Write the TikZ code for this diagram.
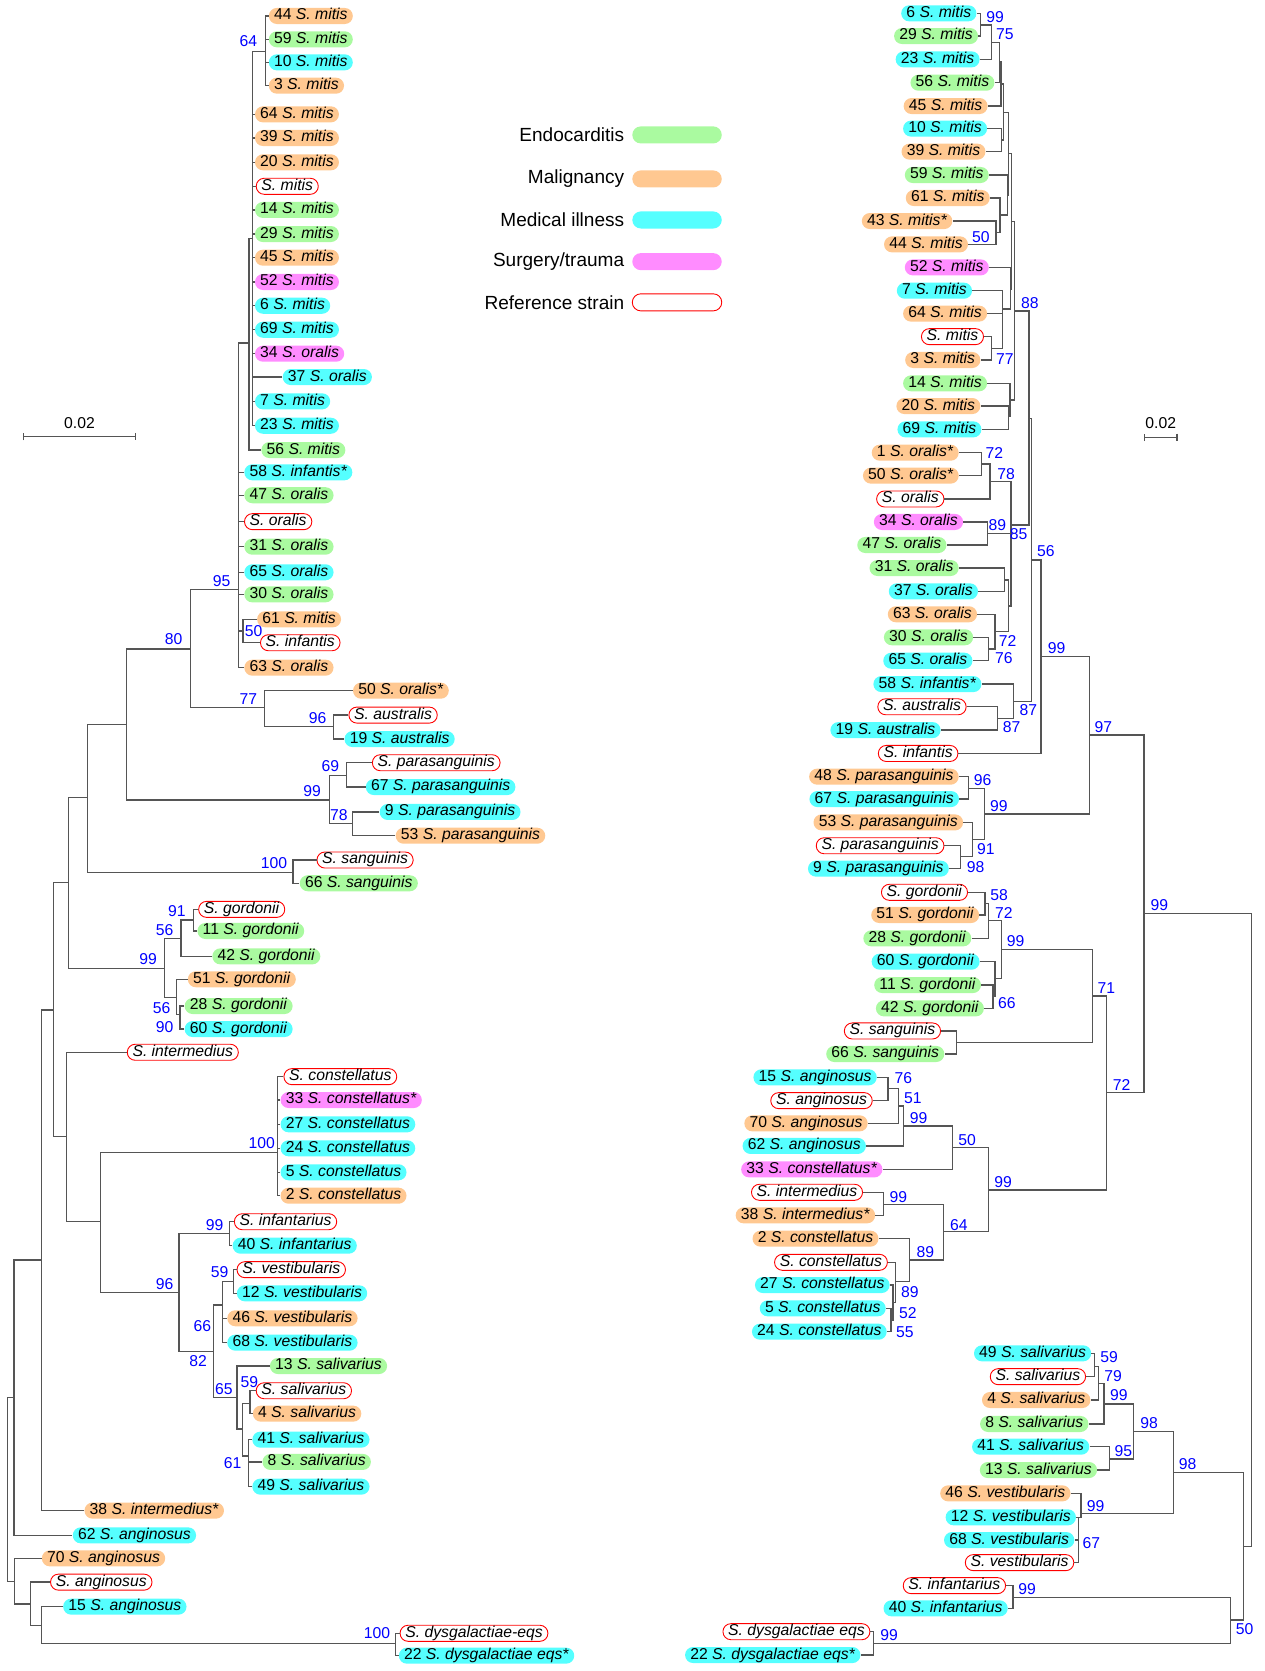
\documentclass[tikz,border=0pt]{standalone}
\usepackage{fontspec}
\setmainfont{Liberation Sans}
\usetikzlibrary{arrows.meta}

\definecolor{cEndo}{RGB}{170,250,160}
\definecolor{cMalig}{RGB}{255,200,145}
\definecolor{cMed}{RGB}{85,255,255}
\definecolor{cSurg}{RGB}{255,140,255}
\definecolor{cLine}{RGB}{85,85,85}
\definecolor{cBoot}{RGB}{0,0,255}

\tikzset{
  leaf/.style={rounded corners=5.3pt, minimum height=10.7pt, inner xsep=3.5pt, inner ysep=0.5pt,
    text height=7.5pt, text depth=2.2pt, font=\fontsize{10.5}{12}\selectfont},
  endo/.style={leaf, fill=cEndo},
  malig/.style={leaf, fill=cMalig},
  medill/.style={leaf, fill=cMed},
  surg/.style={leaf, fill=cSurg},
  refstrain/.style={leaf, draw=red, fill=white, line width=0.6pt},
  branch/.style={draw=cLine, line width=0.9pt},
  bsl/.style={text=cBoot, inner sep=0pt, font=\fontsize{10.5}{12}\selectfont},
  legtext/.style={inner sep=0pt, font=\fontsize{12.7}{15}\selectfont},
  legpill/.style={minimum width=59.7pt, minimum height=11.4pt, rounded corners=5.7pt, inner sep=0pt},
  scalebar/.style={draw=cLine, line width=0.8pt, {Bar[width=5pt]}-{Bar[width=5pt]}}
}

\begin{document}
\begin{tikzpicture}[x=0.025cm, y=-0.025cm]
\useasboundingbox (0,0) rectangle (1187,1568);

\node[legtext, anchor=east] (tEndo) at (586,126.6) {Endocarditis};
\node[legtext, anchor=east] (tMalig) at (586,167.9) {Malignancy};
\node[legtext, anchor=east] (tMed) at (586,206.4) {Medical illness};
\node[legtext, anchor=east] (tSurg) at (586,245.5) {Surgery/trauma};
\node[legtext, anchor=east] (tRef) at (586,283.7) {Reference strain};
\node[legpill, fill=cEndo] (kEndo) at (635.3,126.6) {};
\node[legpill, fill=cMalig] (kMalig) at (635.3,167.9) {};
\node[legpill, fill=cMed] (kMed) at (635.3,206.4) {};
\node[legpill, fill=cSurg] (kSurg) at (635.3,245.5) {};
\node[legpill, draw=red, fill=white, line width=0.6pt] (kRef) at (635.3,283.7) {};

\coordinate (sL1) at (21.3,409.7);
\coordinate (sL2) at (128,409.7);
\draw[scalebar] (sL1) -- (sL2);
\node[bsl, text=black] (sLt) at (74.6,397) {0.02};
\coordinate (sR1) at (1073.5,410.4);
\coordinate (sR2) at (1105,410.4);
\draw[scalebar] (sR1) -- (sR2);
\node[bsl, text=black] (sRt) at (1089.2,397) {0.02};

\begin{scope}[every node/.append style={anchor=west}]
\node[malig] (l44) at (252,15) {44 \textit{S. mitis}};
\node[endo] (l59) at (252,36.9) {59 \textit{S. mitis}};
\node[medill] (l10) at (252,58.5) {10 \textit{S. mitis}};
\node[malig] (l3) at (252,80.4) {3 \textit{S. mitis}};
\node[malig] (l64) at (239,107.3) {64 \textit{S. mitis}};
\node[malig] (l39) at (239,129.5) {39 \textit{S. mitis}};
\node[malig] (l20) at (239,152.3) {20 \textit{S. mitis}};
\node[refstrain] (lmit) at (240,174.8) {\textit{S. mitis}};
\node[endo] (l14) at (239,197) {14 \textit{S. mitis}};
\node[endo] (l29) at (239,219.6) {29 \textit{S. mitis}};
\node[malig] (l45) at (239,241.8) {45 \textit{S. mitis}};
\node[surg] (l52) at (239,264.6) {52 \textit{S. mitis}};
\node[medill] (l6) at (239,286.9) {6 \textit{S. mitis}};
\node[medill] (l69) at (239,309.4) {69 \textit{S. mitis}};
\node[surg] (l34) at (239,331.9) {34 \textit{S. oralis}};
\node[medill] (l37) at (265,353.8) {37 \textit{S. oralis}};
\node[medill] (l7) at (239,376.6) {7 \textit{S. mitis}};
\node[medill] (l23) at (239,399.5) {23 \textit{S. mitis}};
\node[endo] (l56) at (245,422.3) {56 \textit{S. mitis}};
\node[medill] (l58) at (229,443.2) {58 \textit{S. infantis*}};
\node[endo] (l47) at (229,464.7) {47 \textit{S. oralis}};
\node[refstrain] (lora) at (229,489.5) {\textit{S. oralis}};
\node[endo] (l31) at (229,513) {31 \textit{S. oralis}};
\node[medill] (l65) at (229,537) {65 \textit{S. oralis}};
\node[endo] (l30) at (229,557.7) {30 \textit{S. oralis}};
\node[malig] (l61) at (241,581.1) {61 \textit{S. mitis}};
\node[refstrain] (linf) at (244,603.1) {\textit{S. infantis}};
\node[malig] (l63) at (229,626.5) {63 \textit{S. oralis}};
\node[malig] (l50) at (331,648.1) {50 \textit{S. oralis*}};
\node[refstrain] (laus) at (327,671) {\textit{S. australis}};
\node[medill] (l19) at (323,693.5) {19 \textit{S. australis}};
\node[refstrain] (lpar) at (349,715.7) {\textit{S. parasanguinis}};
\node[medill] (l67) at (343,738.5) {67 \textit{S. parasanguinis}};
\node[medill] (l9) at (356,761.9) {9 \textit{S. parasanguinis}};
\node[malig] (l53) at (371,784.2) {53 \textit{S. parasanguinis}};
\node[refstrain] (lsan) at (297,807) {\textit{S. sanguinis}};
\node[endo] (l66) at (281,828.8) {66 \textit{S. sanguinis}};
\node[refstrain] (lgor) at (186,853.3) {\textit{S. gordonii}};
\node[endo] (l11) at (185,873.6) {11 \textit{S. gordonii}};
\node[endo] (l42) at (199,897.4) {42 \textit{S. gordonii}};
\node[malig] (l51) at (176,918.9) {51 \textit{S. gordonii}};
\node[endo] (l28) at (173,944) {28 \textit{S. gordonii}};
\node[medill] (l60) at (173,965.6) {60 \textit{S. gordonii}};
\node[refstrain] (lint) at (119,987.4) {\textit{S. intermedius}};
\node[refstrain] (lcon) at (266,1010.3) {\textit{S. constellatus}};
\node[surg] (l33) at (263,1032.2) {33 \textit{S. constellatus*}};
\node[medill] (l27) at (263,1055) {27 \textit{S. constellatus}};
\node[medill] (l24) at (263,1077.5) {24 \textit{S. constellatus}};
\node[medill] (l5) at (263,1100) {5 \textit{S. constellatus}};
\node[malig] (l2) at (263,1122) {2 \textit{S. constellatus}};
\node[refstrain] (lifa) at (219.5,1146.4) {\textit{S. infantarius}};
\node[medill] (l40) at (218,1168.9) {40 \textit{S. infantarius}};
\node[refstrain] (lves) at (222,1191.4) {\textit{S. vestibularis}};
\node[medill] (l12) at (222,1213.6) {12 \textit{S. vestibularis}};
\node[malig] (l46) at (213,1237) {46 \textit{S. vestibularis}};
\node[medill] (l68) at (213,1259.9) {68 \textit{S. vestibularis}};
\node[endo] (l13) at (253,1281.8) {13 \textit{S. salivarius}};
\node[refstrain] (lsal) at (240,1305) {\textit{S. salivarius}};
\node[malig] (l4) at (237,1326.5) {4 \textit{S. salivarius}};
\node[medill] (l41) at (236.5,1350.9) {41 \textit{S. salivarius}};
\node[endo] (l8) at (246,1371.8) {8 \textit{S. salivarius}};
\node[medill] (l49) at (236.5,1395) {49 \textit{S. salivarius}};
\node[malig] (l38) at (79,1417.5) {38 \textit{S. intermedius*}};
\node[medill] (l62) at (68,1440.7) {62 \textit{S. anginosus}};
\node[malig] (l70) at (39,1462.3) {70 \textit{S. anginosus}};
\node[refstrain] (lang) at (47,1484.6) {\textit{S. anginosus}};
\node[medill] (l15) at (59,1507.6) {15 \textit{S. anginosus}};
\node[refstrain] (ldys) at (375,1532.6) {\textit{S. dysgalactiae-eqs}};
\node[medill] (l22) at (374,1553.6) {22 \textit{S. dysgalactiae eqs*}};
\end{scope}

\coordinate (ln64) at (249,48.5);
\coordinate (lnB) at (237,224);
\coordinate (lnA) at (233.5,322);
\coordinate (ln50) at (228,592);
\coordinate (ln95) at (224,553);
\coordinate (ln96) at (313,682);
\coordinate (ln77) at (248,664);
\coordinate (ln80) at (179,609);
\coordinate (ln69) at (325,727.8);
\coordinate (ln78) at (331,772.5);
\coordinate (ln99p) at (309,750.7);
\coordinate (lnP1) at (119,680);
\coordinate (ln100s) at (275,819);
\coordinate (lnP2) at (82,748.5);
\coordinate (ln91) at (181.6,863.3);
\coordinate (ln56a) at (170,880.5);
\coordinate (ln90) at (169,952);
\coordinate (ln56b) at (165.4,936);
\coordinate (ln99g) at (154.5,908.6);
\coordinate (lnP3) at (64,828);
\coordinate (ln100c) at (260.5,1081.3);
\coordinate (ln99i) at (215.5,1157.3);
\coordinate (ln59v) at (219,1202.7);
\coordinate (ln66) at (209,1224.5);
\coordinate (ln59s) at (234.7,1316.8);
\coordinate (ln61) at (232.9,1366.2);
\coordinate (lnN2) at (227.4,1341);
\coordinate (ln65) at (222.4,1311.2);
\coordinate (ln82) at (200.4,1268.3);
\coordinate (ln96v) at (168,1212.7);
\coordinate (lnP6) at (94.6,1146.4);
\coordinate (lnP5) at (62.5,1066.6);
\coordinate (lnP4) at (50.5,947.7);
\coordinate (lnP7) at (39,1182.4);
\coordinate (lnP8) at (13,1311.2);
\coordinate (ln100d) at (371,1542);
\coordinate (lnP11) at (39,1525.5);
\coordinate (lnP10) at (28.9,1505);
\coordinate (lnP9) at (13.7,1484.2);
\coordinate (lnR) at (7.2,1397);

\draw[branch] (ln64) |- (l44.west) (ln64) |- (l59.west) (ln64) |- (l10.west) (ln64) |- (l3.west);
\draw[branch] (lnB) |- (ln64) (lnB) |- (l64.west) (lnB) |- (l39.west) (lnB) |- (l20.west)
  (lnB) |- (lmit.west) (lnB) |- (l14.west) (lnB) |- (l29.west) (lnB) |- (l45.west)
  (lnB) |- (l52.west) (lnB) |- (l6.west) (lnB) |- (l69.west) (lnB) |- (l34.west)
  (lnB) |- (l37.west) (lnB) |- (l7.west) (lnB) |- (l23.west);
\draw[branch] (lnA) |- (lnB) (lnA) |- (l56.west);
\draw[branch] (ln50) |- (l61.west) (ln50) |- (linf.west);
\draw[branch] (ln95) |- (lnA) (ln95) |- (l58.west) (ln95) |- (l47.west) (ln95) |- (lora.west)
  (ln95) |- (l31.west) (ln95) |- (l65.west) (ln95) |- (l30.west) (ln95) |- (ln50) (ln95) |- (l63.west);
\draw[branch] (ln96) |- (laus.west) (ln96) |- (l19.west);
\draw[branch] (ln77) |- (l50.west) (ln77) |- (ln96);
\draw[branch] (ln80) |- (ln95) (ln80) |- (ln77);
\draw[branch] (ln69) |- (lpar.west) (ln69) |- (l67.west);
\draw[branch] (ln78) |- (l9.west) (ln78) |- (l53.west);
\draw[branch] (ln99p) |- (ln69) (ln99p) |- (ln78);
\draw[branch] (lnP1) |- (ln80) (lnP1) |- (ln99p);
\draw[branch] (ln100s) |- (lsan.west) (ln100s) |- (l66.west);
\draw[branch] (lnP2) |- (lnP1) (lnP2) |- (ln100s);
\draw[branch] (ln91) |- (lgor.west) (ln91) |- (l11.west);
\draw[branch] (ln56a) |- (ln91) (ln56a) |- (l42.west);
\draw[branch] (ln90) |- (l28.west) (ln90) |- (l60.west);
\draw[branch] (ln56b) |- (l51.west) (ln56b) |- (ln90);
\draw[branch] (ln99g) |- (ln56a) (ln99g) |- (ln56b);
\draw[branch] (lnP3) |- (lnP2) (lnP3) |- (ln99g);
\draw[branch] (ln100c) |- (lcon.west) (ln100c) |- (l33.west) (ln100c) |- (l27.west)
  (ln100c) |- (l24.west) (ln100c) |- (l5.west) (ln100c) |- (l2.west);
\draw[branch] (ln99i) |- (lifa.west) (ln99i) |- (l40.west);
\draw[branch] (ln59v) |- (lves.west) (ln59v) |- (l12.west);
\draw[branch] (ln66) |- (ln59v) (ln66) |- (l46.west) (ln66) |- (l68.west);
\draw[branch] (ln59s) |- (lsal.west) (ln59s) |- (l4.west);
\draw[branch] (ln61) |- (l41.west) (ln61) |- (l8.west) (ln61) |- (l49.west);
\draw[branch] (lnN2) |- (ln59s) (lnN2) |- (ln61);
\draw[branch] (ln65) |- (l13.west) (ln65) |- (lnN2);
\draw[branch] (ln82) |- (ln66) (ln82) |- (ln65);
\draw[branch] (ln96v) |- (ln99i) (ln96v) |- (ln82);
\draw[branch] (lnP6) |- (ln100c) (lnP6) |- (ln96v);
\draw[branch] (lnP5) |- (lint.west) (lnP5) |- (lnP6);
\draw[branch] (lnP4) |- (lnP3) (lnP4) |- (lnP5);
\draw[branch] (lnP7) |- (lnP4) (lnP7) |- (l38.west);
\draw[branch] (lnP8) |- (lnP7) (lnP8) |- (l62.west);
\draw[branch] (ln100d) |- (ldys.west) (ln100d) |- (l22.west);
\draw[branch] (lnP11) |- (l15.west) (lnP11) |- (ln100d);
\draw[branch] (lnP10) |- (lang.west) (lnP10) |- (lnP11);
\draw[branch] (lnP9) |- (l70.west) (lnP9) |- (lnP10);
\draw[branch] (lnR) |- (lnP8) (lnR) |- (lnP9);

\node[bsl] (lb1) at (233,39) {64};
\node[bsl] (lb2) at (208,545) {95};
\node[bsl] (lb3) at (238,592) {50};
\node[bsl] (lb4) at (163,600) {80};
\node[bsl] (lb5) at (233,656) {77};
\node[bsl] (lb6) at (298,674) {96};
\node[bsl] (lb7) at (310,719) {69};
\node[bsl] (lb8) at (293,742) {99};
\node[bsl] (lb9) at (318,765) {78};
\node[bsl] (lb10) at (257,810) {100};
\node[bsl] (lb11) at (166,855) {91};
\node[bsl] (lb12) at (154.5,873) {56};
\node[bsl] (lb13) at (139,900) {99};
\node[bsl] (lb14) at (151.6,945.6) {56};
\node[bsl] (lb15) at (154.5,964) {90};
\node[bsl] (lb16) at (245.6,1072.5) {100};
\node[bsl] (lb17) at (201.4,1149.5) {99};
\node[bsl] (lb18) at (206,1194) {59};
\node[bsl] (lb19) at (154.5,1204.5) {96};
\node[bsl] (lb20) at (190,1244) {66};
\node[bsl] (lb21) at (186,1277) {82};
\node[bsl] (lb22) at (210,1303) {65};
\node[bsl] (lb23) at (234,1297) {59};
\node[bsl] (lb24) at (218.4,1373) {61};
\node[bsl] (lb25) at (353.8,1532.5) {100};

\begin{scope}[every node/.append style={anchor=east}]
\node[medill] (r6) at (916.5,12.5) {6 \textit{S. mitis}};
\node[endo] (r29) at (918,33.8) {29 \textit{S. mitis}};
\node[medill] (r23) at (919.5,55.7) {23 \textit{S. mitis}};
\node[endo] (r56) at (933.4,77.6) {56 \textit{S. mitis}};
\node[malig] (r45) at (927,99.5) {45 \textit{S. mitis}};
\node[medill] (r10) at (926.5,120.7) {10 \textit{S. mitis}};
\node[malig] (r39) at (925,142.3) {39 \textit{S. mitis}};
\node[endo] (r59) at (928.1,164.2) {59 \textit{S. mitis}};
\node[malig] (r61) at (929,185.8) {61 \textit{S. mitis}};
\node[malig] (r43) at (893.9,207.4) {43 \textit{S. mitis*}};
\node[malig] (r44) at (908.6,229.3) {44 \textit{S. mitis}};
\node[surg] (r52) at (928.1,250.9) {52 \textit{S. mitis}};
\node[medill] (r7) at (912.4,272.8) {7 \textit{S. mitis}};
\node[malig] (r64) at (926.5,294.3) {64 \textit{S. mitis}};
\node[refstrain] (rmit) at (923.3,315.9) {\textit{S. mitis}};
\node[malig] (r3) at (920.2,337.8) {3 \textit{S. mitis}};
\node[endo] (r14) at (926.5,359.7) {14 \textit{S. mitis}};
\node[malig] (r20) at (920.2,381) {20 \textit{S. mitis}};
\node[medill] (r69) at (921.2,402.9) {69 \textit{S. mitis}};
\node[malig] (r1) at (899.9,424.8) {1 \textit{S. oralis*}};
\node[malig] (r50) at (899.9,446.3) {50 \textit{S. oralis*}};
\node[refstrain] (rora) at (886.2,468.2) {\textit{S. oralis}};
\node[surg] (r34) at (904,489.8) {34 \textit{S. oralis}};
\node[endo] (r47) at (888.4,511.4) {47 \textit{S. oralis}};
\node[endo] (r31) at (899.9,533) {31 \textit{S. oralis}};
\node[medill] (r37) at (918,554.9) {37 \textit{S. oralis}};
\node[malig] (r63) at (917.1,576.4) {63 \textit{S. oralis}};
\node[endo] (r30) at (913.4,598) {30 \textit{S. oralis}};
\node[medill] (r65) at (912.8,620) {65 \textit{S. oralis}};
\node[medill] (r58) at (921.2,641.9) {58 \textit{S. infantis*}};
\node[refstrain] (raus) at (907,663.2) {\textit{S. australis}};
\node[medill] (r19) at (882.9,685.1) {19 \textit{S. australis}};
\node[refstrain] (rinf) at (899.3,707) {\textit{S. infantis}};
\node[malig] (r48) at (899.9,728.8) {48 \textit{S. parasanguinis}};
\node[medill] (r67) at (900.2,749.8) {67 \textit{S. parasanguinis}};
\node[malig] (r53) at (904,771.7) {53 \textit{S. parasanguinis}};
\node[refstrain] (rpar) at (886.2,793.6) {\textit{S. parasanguinis}};
\node[medill] (r9) at (890.6,815.1) {9 \textit{S. parasanguinis}};
\node[refstrain] (rgor) at (908.3,837.3) {\textit{S. gordonii}};
\node[malig] (r51) at (919.1,858.6) {51 \textit{S. gordonii}};
\node[endo] (r28) at (911.7,880.5) {28 \textit{S. gordonii}};
\node[medill] (r60) at (919.5,902.4) {60 \textit{S. gordonii}};
\node[endo] (r11) at (920.8,924.3) {11 \textit{S. gordonii}};
\node[endo] (r42) at (923.5,946.2) {42 \textit{S. gordonii}};
\node[refstrain] (rsan) at (883,967.4) {\textit{S. sanguinis}};
\node[endo] (r66) at (886.4,989) {66 \textit{S. sanguinis}};
\node[medill] (r15) at (823,1010.9) {15 \textit{S. anginosus}};
\node[refstrain] (rang) at (818.9,1032.8) {\textit{S. anginosus}};
\node[malig] (r70) at (814.5,1054.1) {70 \textit{S. anginosus}};
\node[medill] (r62) at (812.8,1075.3) {62 \textit{S. anginosus}};
\node[surg] (r33) at (828.3,1097.3) {33 \textit{S. constellatus*}};
\node[refstrain] (rint) at (809.8,1118.8) {\textit{S. intermedius}};
\node[malig] (r38) at (821.5,1140.4) {38 \textit{S. intermedius*}};
\node[malig] (r2) at (824.6,1162.3) {2 \textit{S. constellatus}};
\node[refstrain] (rcon) at (833.1,1184.5) {\textit{S. constellatus}};
\node[medill] (r27) at (835.1,1205.8) {27 \textit{S. constellatus}};
\node[medill] (r5) at (831.4,1227.7) {5 \textit{S. constellatus}};
\node[medill] (r24) at (832.3,1249.6) {24 \textit{S. constellatus}};
\node[medill] (r49) at (1024.2,1269.9) {49 \textit{S. salivarius}};
\node[refstrain] (rsal) at (1019.1,1291.8) {\textit{S. salivarius}};
\node[malig] (r4) at (1023.5,1313.7) {4 \textit{S. salivarius}};
\node[endo] (r8) at (1021.7,1336.2) {8 \textit{S. salivarius}};
\node[medill] (r41) at (1022.4,1357.5) {41 \textit{S. salivarius}};
\node[endo] (r13) at (1029.7,1379.4) {13 \textit{S. salivarius}};
\node[malig] (r46) at (1004.8,1401.3) {46 \textit{S. vestibularis}};
\node[medill] (r12) at (1009.9,1423.8) {12 \textit{S. vestibularis}};
\node[medill] (r68) at (1008.4,1445.1) {68 \textit{S. vestibularis}};
\node[refstrain] (rves) at (1008,1466.3) {\textit{S. vestibularis}};
\node[refstrain] (rifa) at (944,1487.9) {\textit{S. infantarius}};
\node[medill] (r40) at (945.9,1509.2) {40 \textit{S. infantarius}};
\node[refstrain] (rdys) at (816.7,1531.1) {\textit{S. dysgalactiae eqs}};
\node[medill] (r22) at (807.7,1553) {22 \textit{S. dysgalactiae eqs*}};
\end{scope}

\coordinate (rn99a) at (920.2,23.5);
\coordinate (rn75) at (930.5,39.7);
\coordinate (rnA) at (937.8,57.9);
\coordinate (rnB) at (939.3,78.8);
\coordinate (rnC) at (939.6,131.4);
\coordinate (rnD) at (941.5,105.4);
\coordinate (rn50) at (934.6,218.3);
\coordinate (rnE) at (938.4,201.7);
\coordinate (rnF) at (945.3,183);
\coordinate (rnG) at (946.2,143.9);
\coordinate (rn77) at (930.5,326.9);
\coordinate (rnH) at (940.6,290);
\coordinate (rnI) at (948.4,271.5);
\coordinate (rnJ) at (949.3,208);
\coordinate (rnL) at (946.6,391);
\coordinate (rnK) at (947.8,375.4);
\coordinate (rnM) at (951.8,291.8);
\coordinate (rn72o) at (921.1,435.4);
\coordinate (rn78) at (929,452);
\coordinate (rn89) at (926.5,500.8);
\coordinate (rn31) at (942.4,544.3);
\coordinate (rn76) at (927.4,609);
\coordinate (rn72b) at (933.7,592.7);
\coordinate (rnO) at (946.2,568.7);
\coordinate (rn85) at (948.7,492.6);
\coordinate (rn88) at (965.6,392.6);
\coordinate (rn87b) at (935.8,674);
\coordinate (rn87a) at (950.8,658.4);
\coordinate (rnX) at (968,525.4);
\coordinate (rn56) at (976.8,616.2);
\coordinate (rn96p) at (908.6,739.7);
\coordinate (rn98p) at (901.4,803.9);
\coordinate (rn91p) at (912.7,787.6);
\coordinate (rn99p) at (923.6,763.8);
\coordinate (rn99b) at (1022.2,689.7);
\coordinate (rn58g) at (924.4,847.7);
\coordinate (rn72g) at (927.8,863.9);
\coordinate (rn66g) at (931.9,935.2);
\coordinate (rnQ) at (933.6,918);
\coordinate (rn99g) at (939.6,890.8);
\coordinate (rnS) at (897.4,978.1);
\coordinate (rn71) at (1025.3,934.6);
\coordinate (rn76a) at (833.3,1021.3);
\coordinate (rn51a) at (843.4,1037.8);
\coordinate (rn99a2) at (847.5,1056.6);
\coordinate (rn50c) at (893.7,1077);
\coordinate (rn99i) at (829,1130.1);
\coordinate (rn55) at (836,1238.7);
\coordinate (rn52) at (838,1222);
\coordinate (rn89b) at (840.5,1202.7);
\coordinate (rn89c) at (853.6,1182.4);
\coordinate (rn64) at (885.6,1155.8);
\coordinate (rn99c) at (927.5,1116.7);
\coordinate (rn72) at (1038.2,1025);
\coordinate (rn97) at (1073.5,857);
\coordinate (rn59s) at (1027.1,1282.4);
\coordinate (rn79) at (1030.7,1298);
\coordinate (rn99s) at (1036.1,1317.5);
\coordinate (rn95) at (1040.8,1369);
\coordinate (rn98a) at (1063.9,1343.4);
\coordinate (rn67v) at (1011.9,1423.8);
\coordinate (rn99v) at (1014.5,1420);
\coordinate (rn98b) at (1101,1381.6);
\coordinate (rn99inf) at (950.6,1498.9);
\coordinate (rn99d) at (819.6,1542);
\coordinate (rn50r) at (1154.5,1520.1);
\coordinate (rnR1) at (1166.8,1451.3);
\coordinate (rnroot) at (1174.6,1150);

\draw[branch] (rn99a) |- (r6.east) (rn99a) |- (r29.east);
\draw[branch] (rn75) |- (rn99a) (rn75) |- (r23.east);
\draw[branch] (rnA) |- (rn75) (rnA) |- (r56.east);
\draw[branch] (rnB) |- (rnA) (rnB) |- (r45.east);
\draw[branch] (rnC) |- (r10.east) (rnC) |- (r39.east);
\draw[branch] (rnD) |- (rnB) (rnD) |- (rnC);
\draw[branch] (rn50) |- (r43.east) (rn50) |- (r44.east);
\draw[branch] (rnE) |- (r61.east) (rnE) |- (rn50);
\draw[branch] (rnF) |- (r59.east) (rnF) |- (rnE);
\draw[branch] (rnG) |- (rnD) (rnG) |- (rnF);
\draw[branch] (rn77) |- (rmit.east) (rn77) |- (r3.east);
\draw[branch] (rnH) |- (r7.east) (rnH) |- (r64.east) (rnH) |- (rn77);
\draw[branch] (rnI) |- (r52.east) (rnI) |- (rnH);
\draw[branch] (rnJ) |- (rnG) (rnJ) |- (rnI);
\draw[branch] (rnL) |- (r20.east) (rnL) |- (r69.east);
\draw[branch] (rnK) |- (r14.east) (rnK) |- (rnL);
\draw[branch] (rnM) |- (rnJ) (rnM) |- (rnK);
\draw[branch] (rn72o) |- (r1.east) (rn72o) |- (r50.east);
\draw[branch] (rn78) |- (rn72o) (rn78) |- (rora.east);
\draw[branch] (rn89) |- (r34.east) (rn89) |- (r47.east);
\draw[branch] (rn31) |- (r31.east) (rn31) |- (r37.east);
\draw[branch] (rn76) |- (r30.east) (rn76) |- (r65.east);
\draw[branch] (rn72b) |- (r63.east) (rn72b) |- (rn76);
\draw[branch] (rnO) |- (rn31) (rnO) |- (rn72b);
\draw[branch] (rn85) |- (rn78) (rn85) |- (rn89) (rn85) |- (rnO);
\draw[branch] (rn88) |- (rnM) (rn88) |- (rn85);
\draw[branch] (rn87b) |- (raus.east) (rn87b) |- (r19.east);
\draw[branch] (rn87a) |- (r58.east) (rn87a) |- (rn87b);
\draw[branch] (rnX) |- (rn88) (rnX) |- (rn87a);
\draw[branch] (rn56) |- (rnX) (rn56) |- (rinf.east);
\draw[branch] (rn96p) |- (r48.east) (rn96p) |- (r67.east);
\draw[branch] (rn98p) |- (rpar.east) (rn98p) |- (r9.east);
\draw[branch] (rn91p) |- (r53.east) (rn91p) |- (rn98p);
\draw[branch] (rn99p) |- (rn96p) (rn99p) |- (rn91p);
\draw[branch] (rn99b) |- (rn56) (rn99b) |- (rn99p);
\draw[branch] (rn58g) |- (rgor.east) (rn58g) |- (r51.east);
\draw[branch] (rn72g) |- (rn58g) (rn72g) |- (r28.east);
\draw[branch] (rn66g) |- (r11.east) (rn66g) |- (r42.east);
\draw[branch] (rnQ) |- (r60.east) (rnQ) |- (rn66g);
\draw[branch] (rn99g) |- (rn72g) (rn99g) |- (rnQ);
\draw[branch] (rnS) |- (rsan.east) (rnS) |- (r66.east);
\draw[branch] (rn71) |- (rn99g) (rn71) |- (rnS);
\draw[branch] (rn76a) |- (r15.east) (rn76a) |- (rang.east);
\draw[branch] (rn51a) |- (rn76a) (rn51a) |- (r70.east);
\draw[branch] (rn99a2) |- (rn51a) (rn99a2) |- (r62.east);
\draw[branch] (rn50c) |- (rn99a2) (rn50c) |- (r33.east);
\draw[branch] (rn99i) |- (rint.east) (rn99i) |- (r38.east);
\draw[branch] (rn55) |- (r5.east) (rn55) |- (r24.east);
\draw[branch] (rn52) |- (r27.east) (rn52) |- (rn55);
\draw[branch] (rn89b) |- (rcon.east) (rn89b) |- (rn52);
\draw[branch] (rn89c) |- (r2.east) (rn89c) |- (rn89b);
\draw[branch] (rn64) |- (rn99i) (rn64) |- (rn89c);
\draw[branch] (rn99c) |- (rn50c) (rn99c) |- (rn64);
\draw[branch] (rn72) |- (rn71) (rn72) |- (rn99c);
\draw[branch] (rn97) |- (rn99b) (rn97) |- (rn72);
\draw[branch] (rn59s) |- (r49.east) (rn59s) |- (rsal.east);
\draw[branch] (rn79) |- (rn59s) (rn79) |- (r4.east);
\draw[branch] (rn99s) |- (rn79) (rn99s) |- (r8.east);
\draw[branch] (rn95) |- (r41.east) (rn95) |- (r13.east);
\draw[branch] (rn98a) |- (rn99s) (rn98a) |- (rn95);
\draw[branch] (rn67v) |- (r12.east) (rn67v) |- (r68.east) (rn67v) |- (rves.east);
\draw[branch] (rn99v) |- (r46.east) (rn99v) |- (rn67v);
\draw[branch] (rn98b) |- (rn98a) (rn98b) |- (rn99v);
\draw[branch] (rn99inf) |- (rifa.east) (rn99inf) |- (r40.east);
\draw[branch] (rn99d) |- (rdys.east) (rn99d) |- (r22.east);
\draw[branch] (rn50r) |- (rn99inf) (rn50r) |- (rn99d);
\draw[branch] (rnR1) |- (rn98b) (rnR1) |- (rn50r);
\draw[branch] (rnroot) |- (rn97) (rnroot) |- (rnR1);

\node[bsl] (rb1) at (933.7,15.6) {99};
\node[bsl] (rb2) at (943,32) {75};
\node[bsl] (rb3) at (920.5,222) {50};
\node[bsl] (rb4) at (966.5,284) {88};
\node[bsl] (rb5) at (943,337) {77};
\node[bsl] (rb6) at (933,425.4) {72};
\node[bsl] (rb7) at (944,444.8) {78};
\node[bsl] (rb8) at (935.8,492.6) {89};
\node[bsl] (rb9) at (955.9,501.1) {85};
\node[bsl] (rb10) at (981.5,517) {56};
\node[bsl] (rb11) at (945.5,601.2) {72};
\node[bsl] (rb12) at (942,617.8) {76};
\node[bsl] (rb13) at (991.5,608.4) {99};
\node[bsl] (rb14) at (964.9,666.3) {87};
\node[bsl] (rb15) at (949.3,681.9) {87};
\node[bsl] (rb16) at (1035.3,682) {97};
\node[bsl] (rb17) at (922.1,732) {96};
\node[bsl] (rb18) at (937.4,756.3) {99};
\node[bsl] (rb19) at (925.2,796.7) {91};
\node[bsl] (rb20) at (915.5,813.3) {98};
\node[bsl] (rb21) at (937.6,839.8) {58};
\node[bsl] (rb22) at (942,857) {72};
\node[bsl] (rb23) at (953.1,883) {99};
\node[bsl] (rb24) at (944.7,941.5) {66};
\node[bsl] (rb25) at (1038.2,927.4) {71};
\node[bsl] (rb26) at (1088,849.2) {99};
\node[bsl] (rb27) at (1052.4,1018.1) {72};
\node[bsl] (rb28) at (847.8,1011.3) {76};
\node[bsl] (rb29) at (856.6,1030) {51};
\node[bsl] (rb30) at (862,1049.4) {99};
\node[bsl] (rb31) at (907.6,1069.7) {50};
\node[bsl] (rb32) at (941.3,1108.8) {99};
\node[bsl] (rb33) at (843.1,1122.9) {99};
\node[bsl] (rb34) at (899.8,1149.5) {64};
\node[bsl] (rb35) at (868.4,1175.2) {89};
\node[bsl] (rb36) at (853.9,1212.7) {89};
\node[bsl] (rb37) at (852,1231.8) {52};
\node[bsl] (rb38) at (849.2,1250.2) {55};
\node[bsl] (rb39) at (1040.8,1273.7) {59};
\node[bsl] (rb40) at (1044.4,1291.2) {79};
\node[bsl] (rb41) at (1049.8,1309) {99};
\node[bsl] (rb42) at (1078.3,1335.6) {98};
\node[bsl] (rb43) at (1054.2,1361.2) {95};
\node[bsl] (rb44) at (1114.4,1374) {98};
\node[bsl] (rb45) at (1028.2,1412.9) {99};
\node[bsl] (rb46) at (1024.2,1448.2) {67};
\node[bsl] (rb47) at (963.9,1491) {99};
\node[bsl] (rb48) at (834.4,1534.2) {99};
\node[bsl] (rb49) at (1167.9,1529) {50};
\end{tikzpicture}
\end{document}
